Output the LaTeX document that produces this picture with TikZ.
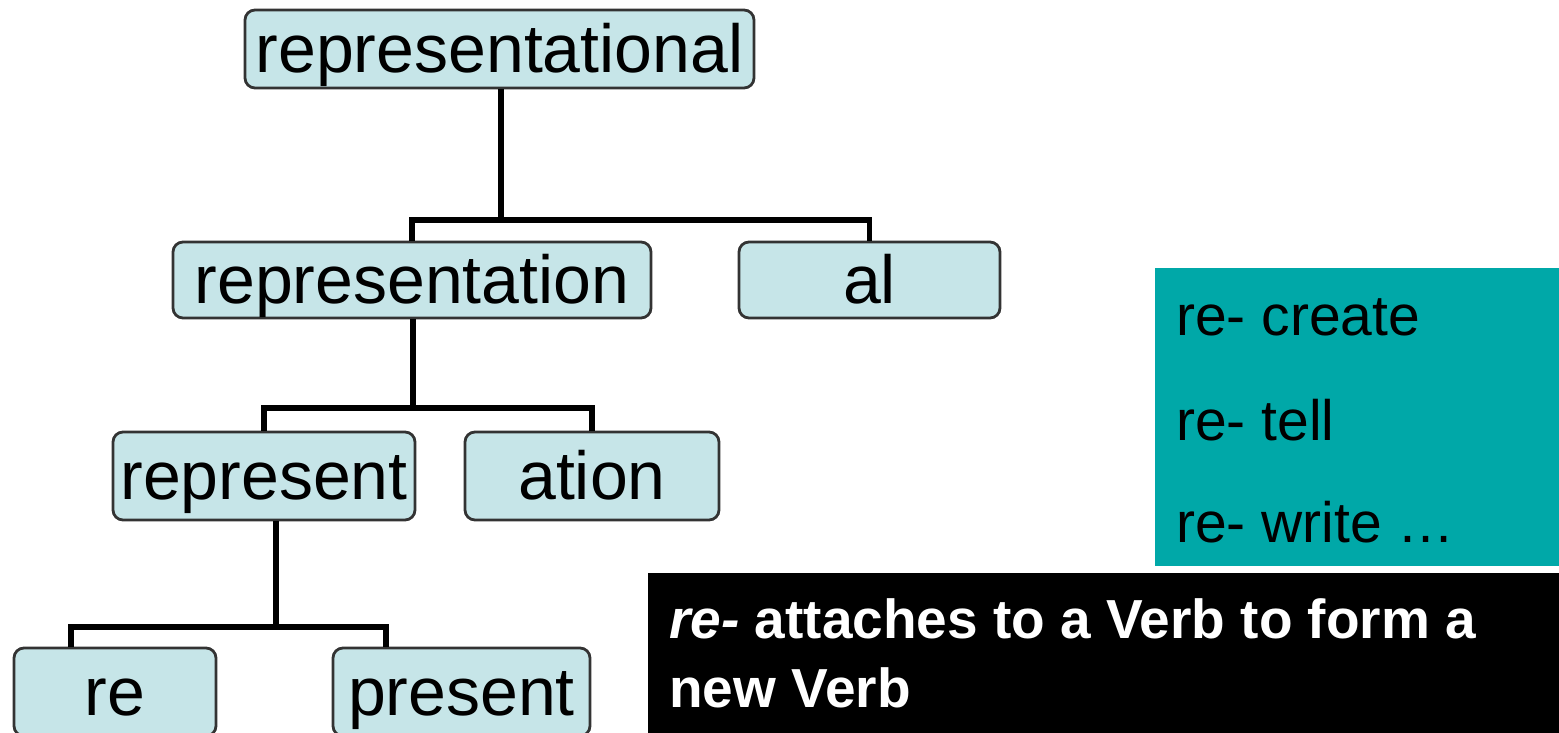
\documentclass[tikz,border=0pt]{standalone}
\usepackage{fontspec}
\setmainfont{Liberation Sans}
\usetikzlibrary{calc}
\definecolor{boxfill}{RGB}{198,229,232}
\definecolor{tealbg}{RGB}{0,168,168}
\begin{document}
\begin{tikzpicture}[x=1pt,y=-1pt,
  morph/.style={draw=black!80, line width=2.8pt, fill=boxfill, rounded corners=10pt,
    inner sep=0pt, text height=61pt, text depth=14pt,
    font=\fontsize{68}{80}\selectfont},
  edge/.style={line width=5.5pt},
  tealtxt/.style={inner sep=0pt, anchor=base west, text=black, font=\fontsize{57}{68}\selectfont},
  blktxt/.style={inner sep=0pt, anchor=base west, text=white, font=\fontsize{55}{66}\selectfont\bfseries}]
\useasboundingbox (0,0) rectangle (1559,733);
\clip (0,0) rectangle (1559,733);
% boxes
\node[morph, minimum width=509pt, minimum height=78pt] (top) at (499.5,49) {representational};
\node[morph, minimum width=478pt, minimum height=76pt] (rep) at (412,280) {representation};
\node[morph, minimum width=261pt, minimum height=76pt] (al) at (869.5,280) {al};
\node[morph, minimum width=302pt, minimum height=88pt] (represent) at (264,476) {represent};
\node[morph, minimum width=254pt, minimum height=88pt] (ation) at (592,476) {ation};
\node[morph, minimum width=202pt, minimum height=88pt] (re) at (115,692) {re};
\node[morph, minimum width=257pt, minimum height=88pt] (present) at (461.5,692) {present};
% connectors
\coordinate (j1) at (501,220);
\draw[edge] (j1 |- top.south) -- (j1);
\draw[edge] (rep.north) |- (j1) -| (al.north);
\coordinate (j2) at (413,408);
\draw[edge] (j2 |- rep.south) -- (j2);
\draw[edge] (represent.north) |- (j2) -| (ation.north);
\coordinate (j3) at (276,627);
\coordinate (d1) at (71,0);
\coordinate (d2) at (386,0);
\draw[edge] (j3 |- represent.south) -- (j3);
\draw[edge] (d1 |- re.north) |- (j3) -| (d2 |- present.north);
% side panels
\fill[tealbg] (1155,268) rectangle (1559,566);
\fill[black] (648,573) rectangle (1559,733);
\node[tealtxt] (t1) at (1176,335) {re- create};
\node[tealtxt] (t2) at (1176,440) {re- tell};
\node[tealtxt] (t3) at (1176,542) {re- write …};
\node[blktxt] (b1) at (669,638) {\textit{re-} attaches to a Verb to form a};
\node[blktxt] (b2) at (669,707) {new Verb};
\end{tikzpicture}
\end{document}
